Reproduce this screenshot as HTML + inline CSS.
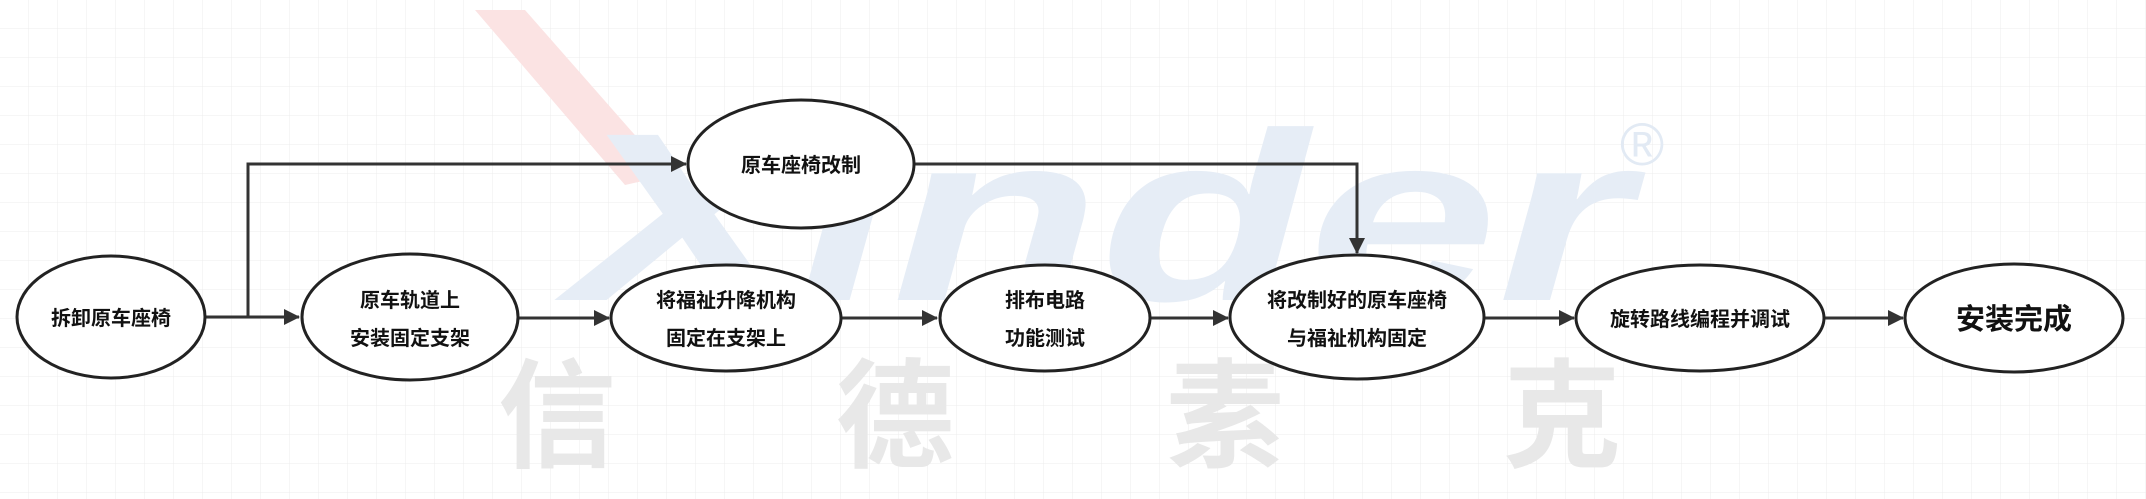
<!DOCTYPE html>
<html><head><meta charset="utf-8"><style>
html,body{margin:0;padding:0;background:#fff;}
svg{display:block;}
</style></head><body>
<svg width="2146" height="499" viewBox="0 0 2146 499" xmlns="http://www.w3.org/2000/svg">
<defs>
<pattern id="g" width="29" height="29" patternUnits="userSpaceOnUse">
<path d="M29 0V29M0 29H29" stroke="#ececec" stroke-width="1" fill="none"/>
</pattern>
<marker id="a" markerWidth="16" markerHeight="16" refX="15" refY="8" orient="auto" markerUnits="userSpaceOnUse" viewBox="0 0 16 16">
<path d="M0,0 L16,8 L0,16 z" fill="#333"/>
</marker>
</defs>
<rect width="2146" height="499" fill="#fff"/>
<rect width="2146" height="499" fill="url(#g)"/>
<!-- watermark -->
<polygon points="475,10 525,10 670,175 625,185" fill="#fbe3e3"/>
<text x="570" y="300" font-family="Liberation Sans, sans-serif" font-style="italic" font-weight="bold" font-size="240" fill="#e6edf6" textLength="1060" lengthAdjust="spacingAndGlyphs">Xinder</text>
<text x="1620" y="165" font-family="Liberation Sans, sans-serif" font-size="60" fill="#e2eaf4">®</text>
<g font-family="Liberation Sans, 'Noto Sans CJK SC', sans-serif" font-weight="bold" font-size="118" fill="#e8e8e8">
<text x="498" y="458">信</text>
<text x="836" y="458">德</text>
<text x="1166" y="458">素</text>
<text x="1503" y="458">克</text>
</g>
<!-- connectors -->
<g stroke="#333" stroke-width="3" fill="none">
<line x1="205" y1="317" x2="299" y2="317" marker-end="url(#a)"/>
<polyline points="248,317 248,164 686,164" marker-end="url(#a)"/>
<line x1="518" y1="318" x2="609" y2="318" marker-end="url(#a)"/>
<line x1="841" y1="318" x2="937" y2="318" marker-end="url(#a)"/>
<polyline points="914,164 1357,164 1357,253" marker-end="url(#a)"/>
<line x1="1150" y1="318" x2="1228" y2="318" marker-end="url(#a)"/>
<line x1="1484" y1="318" x2="1574" y2="318" marker-end="url(#a)"/>
<line x1="1824" y1="318" x2="1903" y2="318" marker-end="url(#a)"/>
</g>
<!-- nodes -->
<g stroke="#222" stroke-width="3" fill="#fff">
<ellipse cx="111" cy="317" rx="94" ry="61"/>
<ellipse cx="410" cy="317" rx="108" ry="63"/>
<ellipse cx="726" cy="318" rx="115" ry="53"/>
<ellipse cx="801" cy="164" rx="113" ry="64"/>
<ellipse cx="1045" cy="318" rx="105" ry="53"/>
<ellipse cx="1357" cy="317" rx="127" ry="62"/>
<ellipse cx="1700" cy="318" rx="124" ry="53"/>
<ellipse cx="2014" cy="318" rx="109" ry="54"/>
</g>
<g font-family="Liberation Sans, 'Noto Sans CJK SC', sans-serif" font-weight="bold" font-size="20" fill="#111" text-anchor="middle">
<text x="111" y="325">拆卸原车座椅</text>
<text x="410" y="307">原车轨道上</text>
<text x="410" y="345">安装固定支架</text>
<text x="726" y="307">将福祉升降机构</text>
<text x="726" y="345">固定在支架上</text>
<text x="801" y="172">原车座椅改制</text>
<text x="1045" y="307">排布电路</text>
<text x="1045" y="345">功能测试</text>
<text x="1357" y="307">将改制好的原车座椅</text>
<text x="1357" y="345">与福祉机构固定</text>
<text x="1700" y="326">旋转路线编程并调试</text>
<text x="2014" y="329" font-size="29">安装完成</text>
</g>
</svg>
</body></html>
